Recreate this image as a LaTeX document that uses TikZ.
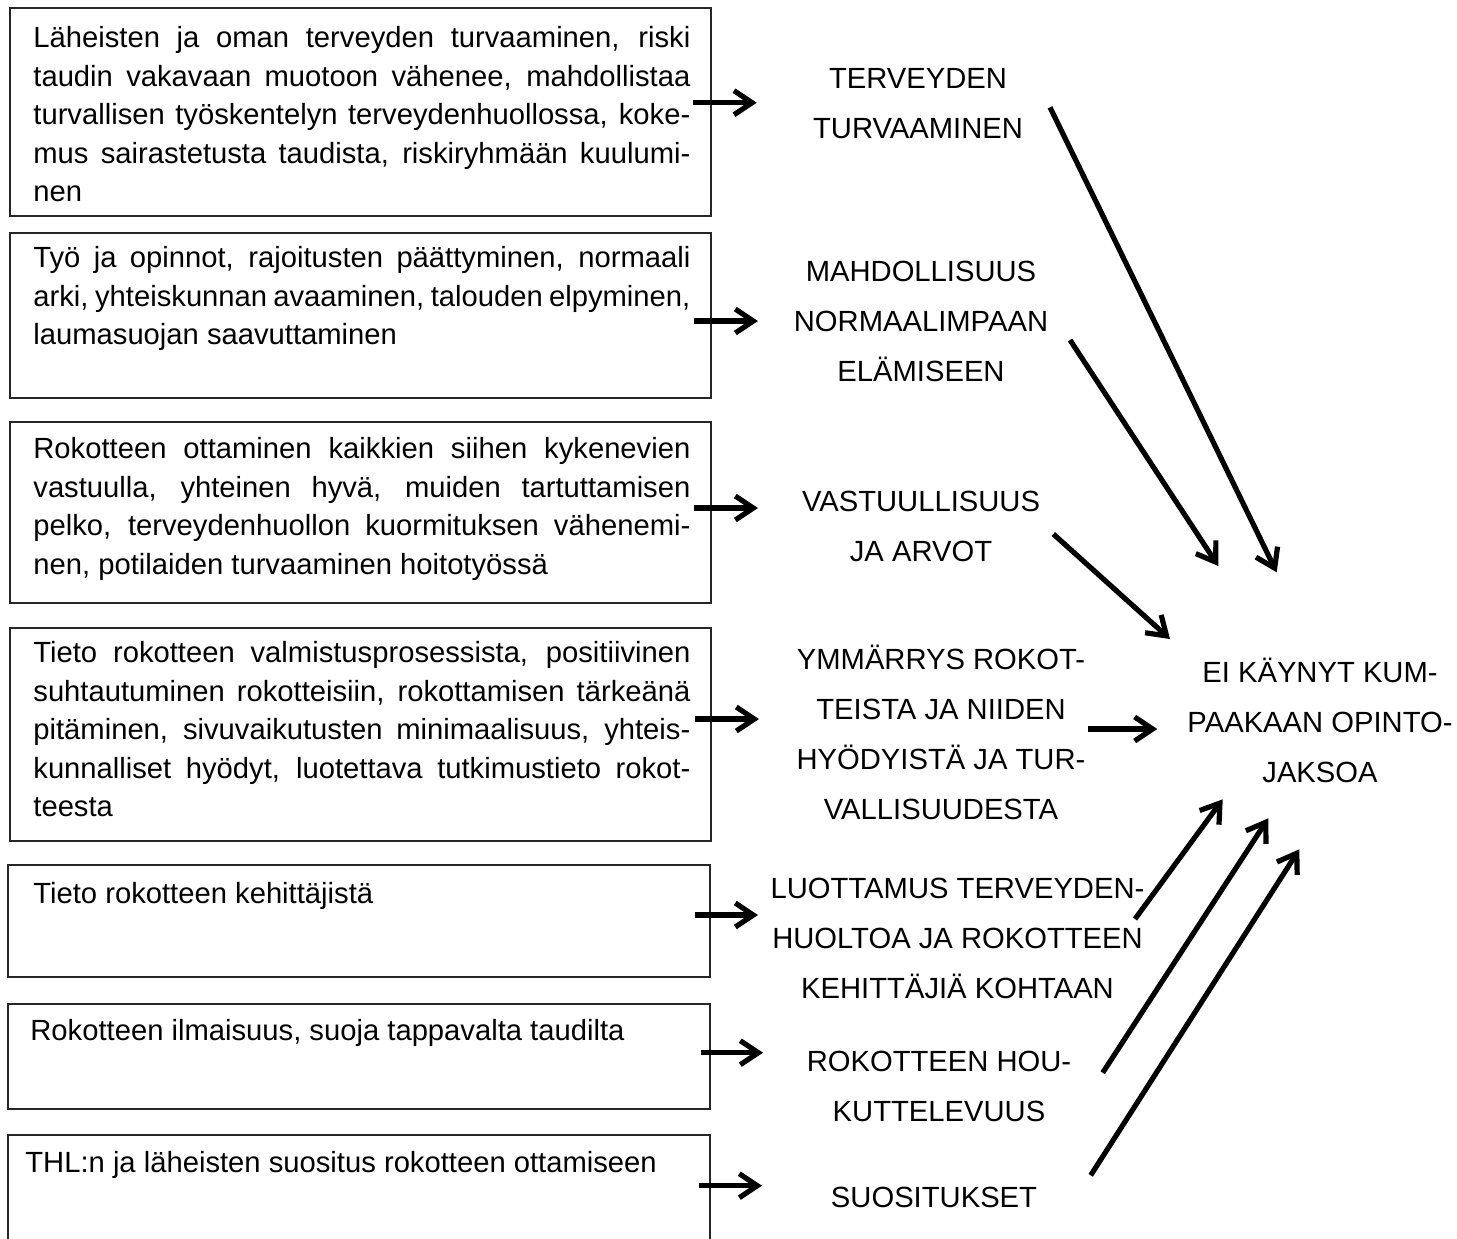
\documentclass[tikz,border=0pt]{standalone}
\usepackage{fontspec}
\setmainfont{Liberation Sans}
\usetikzlibrary{arrows.meta,fit}

% width of one justified line of box text
\newlength{\boxlinew}
\setlength{\boxlinew}{328.5pt}
\newcommand{\fullline}[1]{\makebox[\boxlinew][s]{#1}}

\tikzset{
  reasonbox/.style={draw=black!85, line width=0.75pt, inner sep=0pt},
  reasontext/.style={anchor=north west, inner sep=0pt, align=left,
    font=\fontsize{14.6}{19.25}\selectfont},
  theme/.style={inner sep=0pt, align=center,
    font=\fontsize{14.6}{25}\selectfont},
  arr/.style={line width=2.6pt, -{Straight Barb[length=9pt,width=12pt]}},
}

\begin{document}
\begin{tikzpicture}[x=0.5pt,y=-0.5pt]
\useasboundingbox (0,0) rectangle (1457,1238);
\clip (0,0) rectangle (1457,1238);
\fill[white] (0,0) rectangle (1457,1238);

% ---- reason boxes ----
\node[reasonbox, fit={(10,8) (711,216)}] (b1) {};
\node[reasonbox, fit={(10,233) (711,398)}] (b2) {};
\node[reasonbox, fit={(10,422) (711,603)}] (b3) {};
\node[reasonbox, fit={(10,628) (711,841)}] (b4) {};
\node[reasonbox, fit={(8,865) (710,977)}] (b5) {};
\node[reasonbox, fit={(8,1004) (710,1109)}] (b6) {};
\node[reasonbox, fit={(8,1135) (710,1270)}] (b7) {};

\node[reasontext] (t1) at (33,20.5) {\strut\fullline{Läheisten ja oman terveyden turvaaminen, riski}\\
  \fullline{taudin vakavaan muotoon vähenee, mahdollistaa}\\
  \fullline{turvallisen työskentelyn terveydenhuollossa, koke-}\\
  \fullline{mus sairastetusta taudista, riskiryhmään kuulumi-}\\
  nen};
\node[reasontext] (t2) at (33,240.5) {\strut\fullline{Työ ja opinnot, rajoitusten päättyminen, normaali}\\
  \fullline{arki, yhteiskunnan avaaminen, talouden elpyminen,}\\
  laumasuojan saavuttaminen};
\node[reasontext] (t3) at (33,431.5) {\strut\fullline{Rokotteen ottaminen kaikkien siihen kykenevien}\\
  \fullline{vastuulla, yhteinen hyvä, muiden tartuttamisen}\\
  \fullline{pelko, terveydenhuollon kuormituksen vähenemi-}\\
  nen, potilaiden turvaaminen hoitotyössä};
\node[reasontext] (t4) at (33,635.5) {\strut\fullline{Tieto rokotteen valmistusprosessista, positiivinen}\\
  \fullline{suhtautuminen rokotteisiin, rokottamisen tärkeänä}\\
  \fullline{pitäminen, sivuvaikutusten minimaalisuus, yhteis-}\\
  \fullline{kunnalliset hyödyt, luotettava tutkimustieto rokot-}\\
  teesta};
\node[reasontext] (t5) at (33,876.5) {\strut Tieto rokotteen kehittäjistä};
\node[reasontext] (t6) at (30,1013.5) {\strut Rokotteen ilmaisuus, suoja tappavalta taudilta};
\node[reasontext] (t7) at (25,1145.5) {\strut THL:n ja läheisten suositus rokotteen ottamiseen};

% ---- themes ----
\node[theme] (m1) at (918,103.5) {\strut TERVEYDEN\\\strut TURVAAMINEN};
\node[theme] (m2) at (921,321) {\strut MAHDOLLISUUS\\\strut NORMAALIMPAAN\\\strut ELÄMISEEN};
\node[theme] (m3) at (921,526.5) {\strut VASTUULLISUUS\\\strut JA ARVOT};
\node[theme] (m4) at (941,734) {\strut YMMÄRRYS ROKOT-\\\strut TEISTA JA NIIDEN\\\strut HYÖDYISTÄ JA TUR-\\\strut VALLISUUDESTA};
\node[theme] (m5) at (957.5,938) {\strut LUOTTAMUS TERVEYDEN-\\\strut HUOLTOA JA ROKOTTEEN\\\strut KEHITTÄJIÄ KOHTAAN};
\node[theme] (m6) at (939,1086.7) {\strut ROKOTTEEN HOU-\\\strut KUTTELEVUUS};
\node[theme] (m7) at (934,1197.5) {\strut SUOSITUKSET};
\node[theme] (grp) at (1320,722.7) {\strut EI KÄYNYT KUM-\\\strut PAAKAAN OPINTO-\\\strut JAKSOA};

% ---- arrow end points ----
\coordinate (s1) at (693.3,102.7);  \coordinate (e1) at (756.7,102.7);
\coordinate (s2) at (694,321);      \coordinate (e2) at (758,321);
\coordinate (s3) at (694,508);      \coordinate (e3) at (758,508);
\coordinate (s4) at (695,719);      \coordinate (e4) at (759,719);
\coordinate (s5) at (695,915);      \coordinate (e5) at (758,915);
\coordinate (s6) at (700.7,1052.7); \coordinate (e6) at (763,1052.7);
\coordinate (s7) at (699,1185.7);   \coordinate (e7) at (762,1185.7);

\coordinate (ds1) at (1050,107.3);    \coordinate (de1) at (1276.7,572.3);
\coordinate (ds2) at (1070,340);      \coordinate (de2) at (1218.3,566);
\coordinate (ds3) at (1053.3,534);    \coordinate (de3) at (1170,639);
\coordinate (ds4) at (1135,919);      \coordinate (de4) at (1222.7,799.3);
\coordinate (ds5) at (1102.7,1072.7); \coordinate (de5) at (1268.3,818.3);
\coordinate (ds6) at (1090.7,1175.3); \coordinate (de6) at (1299.3,849.3);
\coordinate (hs) at (1088,729);       \coordinate (he) at (1157.3,729);

% ---- arrows ----
\foreach \i in {1,...,7} \draw[arr] (s\i) -- (e\i);
\foreach \i in {1,...,6} \draw[arr] (ds\i) -- (de\i);
\draw[arr] (hs) -- (he);
\end{tikzpicture}
\end{document}
